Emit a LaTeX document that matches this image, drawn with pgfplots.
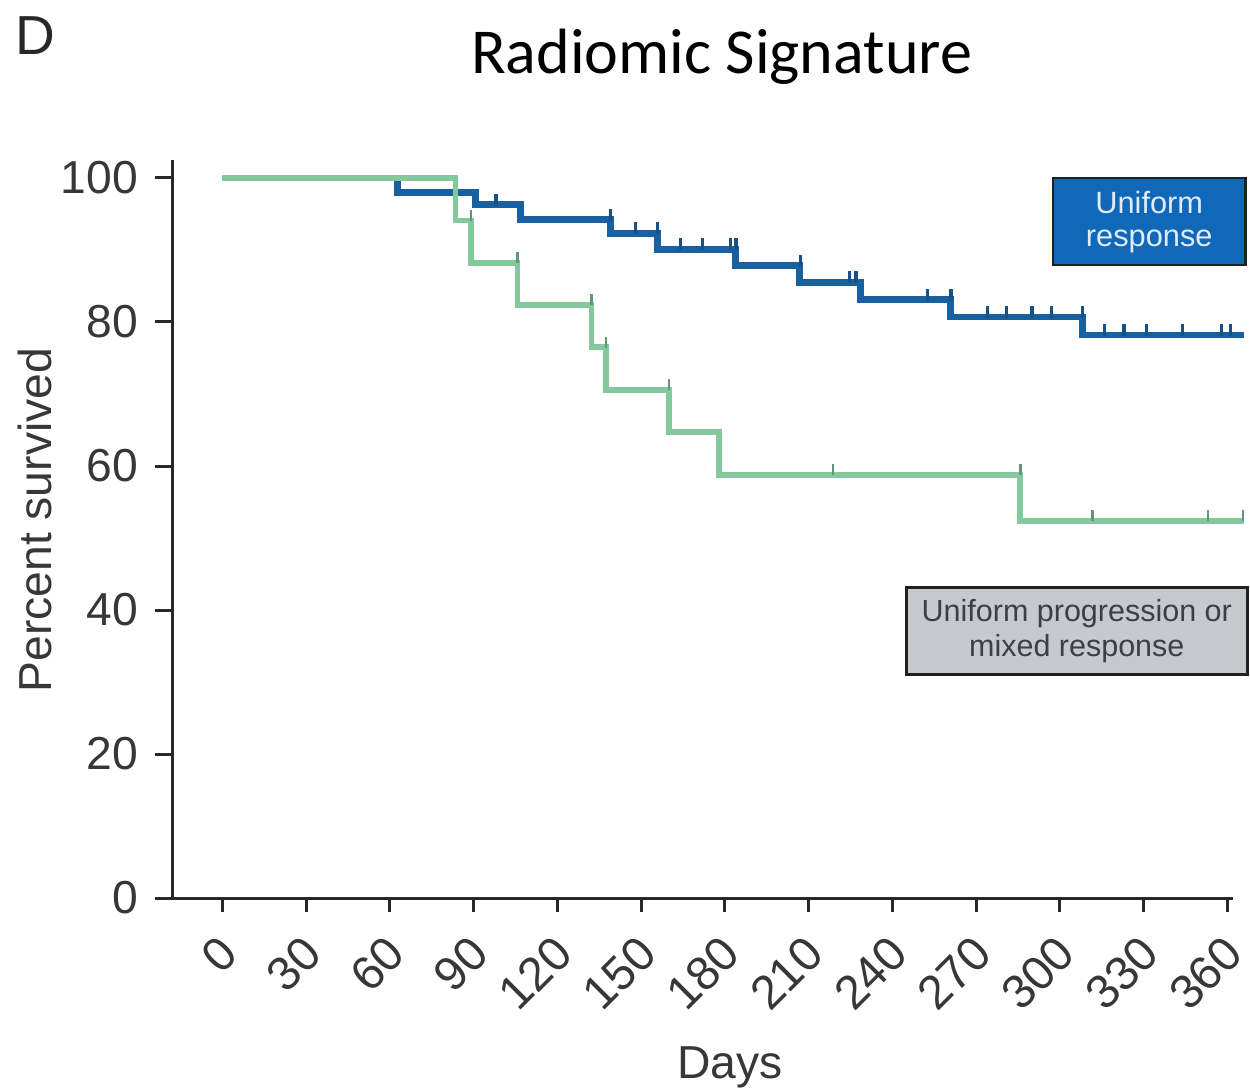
\documentclass[border=0pt]{standalone}
\usepackage{pgfplots}
\pgfplotsset{compat=1.18}
\usepackage{fontspec}
\setmainfont{Liberation Sans}
\newfontfamily\titlefont{Carlito}

\definecolor{kmblue}{RGB}{24,96,160}
\definecolor{kmgreen}{RGB}{132,200,158}
\definecolor{boxblue}{RGB}{16,104,184}
\definecolor{boxtext}{RGB}{225,235,248}
\definecolor{boxgray}{RGB}{200,201,206}
\definecolor{boxgraytext}{RGB}{60,62,72}
\definecolor{axisgray}{RGB}{40,40,40}
\definecolor{labelgray}{RGB}{55,55,55}

% Kaplan-Meier estimates: (day, percent surviving from that day on)
\pgfplotstableread{
day  surv
0    100
62.7 98.0
90.6 96.3
106.7 94.2
139  92.3
156  90.1
183.7 87.8
206.7 85.5
228.5 83.1
260.7 80.7
308  78.2
366  78.2
}\uniformresp
\pgfplotstableread{
day  surv
0    100
83.5 94.1
89   88.2
105.7 82.4
132.2 76.5
137.5 70.6
160  64.7
177.8 58.8
285.8 52.4
366  52.4
}\progmixed
% censored observations
\pgfplotstableread{
day surv
98   96.3
139  94.2
148  92.3
156  92.3
164  90.1
172  90.1
182  90.1
184  90.1
207  87.8
224.6 85.5
227  85.5
252.5 83.1
261  83.1
274  80.7
281  80.7
290  80.7
297  80.7
308  80.7
316  78.2
323  78.2
331  78.2
344  78.2
358  78.2
361  78.2
}\uniformcens
\pgfplotstableread{
day surv
89   94.1
105.7 88.2
132.2 82.4
137.5 76.5
160  70.6
218.8 58.8
285.8 58.8
311.6 52.4
353  52.4
365.6 52.4
}\progcens

\begin{document}
\begin{tikzpicture}
\path[use as bounding box] (-68.8pt,-77.2pt) rectangle (431.2pt,359.2pt);
\begin{axis}[
  at={(0,0)}, anchor=south west,
  scale only axis,
  width=424.4pt, height=295.2pt,
  xmin=-18, xmax=362,
  ymin=0, ymax=102.5,
  clip=false,
  axis x line*=bottom, axis y line*=left,
  axis line style={axisgray, line width=1.2pt, -},
  tick align=outside,
  xtick={0,30,...,360},
  ytick={0,20,...,100},
  tick style={axisgray, line width=1.2pt},
  xtick style={/pgfplots/major tick length=5.6pt},
  ytick style={/pgfplots/major tick length=6.8pt},
  /pgf/number format/assume math mode=true,
  ticklabel style={text=labelgray},
  xticklabel style={font=\fontsize{19}{21}\selectfont,
    xshift=2.6pt, yshift=-14.5pt, rotate=45, anchor=east, inner sep=0pt},
  yticklabel style={font=\fontsize{18.5}{20}\selectfont,
    anchor=east, inner sep=0pt, xshift=-9.2pt},
  xlabel={Days},
  ylabel={Percent survived},
  label style={font=\fontsize{18.5}{20}\selectfont, text=labelgray},
  xlabel style={at={(axis description cs:0.526,-0.229)}, anchor=center},
  ylabel style={at={(axis description cs:-0.129,0.512)}, anchor=center},
  title={\titlefont Radiomic Signature},
  title style={at={(axis description cs:0.518,1.119)}, anchor=center,
    font=\fontsize{25.6}{30}\selectfont},
]
\addplot[kmblue, line width=2.7pt, const plot, line join=miter] table[x=day, y=surv] {\uniformresp};
\addplot[kmgreen, line width=2.3pt, const plot, line join=miter] table[x=day, y=surv] {\progmixed};
\addplot[only marks, mark=|, mark size=2.4pt, kmblue!85!black,
  mark options={line width=1.3pt, yshift=2pt}] table[x=day, y=surv] {\uniformcens};
\addplot[only marks, mark=|, mark size=2.2pt, kmgreen!75!black,
  mark options={line width=1pt, yshift=2pt}] table[x=day, y=surv] {\progcens};

% x axis line continues a little to the left of the y axis
\draw[axisgray, line width=1.2pt] (axis cs:-23.5,0) -- (axis cs:-18,0);

\node[draw=axisgray!80!black, line width=1pt, fill=boxblue, text=boxtext,
  minimum width=76.8pt, minimum height=34.8pt, align=center,
  font=\fontsize{12.3}{13.2}\selectfont]
  at (axis cs:332,93.95) {Uniform\\response};
\node[draw=axisgray!80!black, line width=1pt, fill=boxgray, text=boxgraytext,
  minimum width=136.4pt, minimum height=34.8pt, align=center,
  font=\fontsize{12.2}{14}\selectfont]
  at (axis cs:306.05,37.05) {Uniform progression or\\mixed response};

\node[font=\fontsize{22}{24}\selectfont, text=axisgray, anchor=center]
  at (axis description cs:-0.129,1.169) {D};
\end{axis}
\end{tikzpicture}
\end{document}
